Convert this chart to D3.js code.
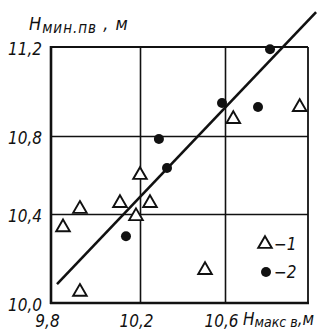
<!DOCTYPE html>
<html>
<head>
<meta charset="utf-8">
<script src="https://cdn.jsdelivr.net/npm/d3@7"></script>
<style>
  html, body { margin: 0; padding: 0; background: #fff; }
  svg text { font-family: "Liberation Sans Narrow", "DejaVu Sans Condensed", "Liberation Sans", sans-serif; font-style: italic; fill: #111; }
</style>
</head>
<body>
<svg id="chart" width="334" height="332"></svg>
<script>
// Series 1 (triangles): H max (x) vs H min (y), metres
const triX = [9.854, 9.93, 9.93, 10.11, 10.182, 10.2, 10.247, 10.506, 10.64, 10.96];
const triY = [10.34, 10.426, 10.05, 10.456, 10.39, 10.6, 10.456, 10.148, 10.876, 10.93];
// Series 2 (filled dots)
const dotX = [10.137, 10.289, 10.327, 10.586, 10.759, 10.817];
const dotY = [10.30, 10.785, 10.636, 10.948, 10.93, 11.19];
// Fitted line end points
const fitX = [9.827, 11.039];
const fitY = [10.085, 11.357];

const xTicks = [9.8, 10.2, 10.6];
const yTicks = [10.0, 10.4, 10.8, 11.2];
const xGrid = [10.2, 10.6];
const yGrid = [10.4, 10.8];
const legendLabels = ["\u22121", "\u22122"];

const svg = d3.select("#chart");

// Polylinear scales keep the grid cells as drawn on the sheet
const x = d3.scaleLinear().domain([9.8, 10.2, 10.6, 11.0]).range([51, 140, 225, 308]);
const y = d3.scaleLinear().domain([10.0, 10.4, 10.8, 11.2]).range([303, 214, 136, 47]);

const pL = x(9.8), pR = x(11.0), pT = y(11.2), pB = y(10.0);
const fmt = d => d3.format(".1f")(d).replace(".", ",");

// grid lines
svg.append("g")
  .attr("transform", `translate(0,${pB})`)
  .call(d3.axisBottom(x).tickValues(xGrid).tickSize(-(pB - pT)).tickFormat(""))
  .call(g => g.select(".domain").remove())
  .call(g => g.selectAll("line").attr("stroke", "#111").attr("stroke-width", 1.6));
svg.append("g")
  .attr("transform", `translate(${pL},0)`)
  .call(d3.axisLeft(y).tickValues(yGrid).tickSize(-(pR - pL)).tickFormat(""))
  .call(g => g.select(".domain").remove())
  .call(g => g.selectAll("line").attr("stroke", "#111").attr("stroke-width", 1.6));

// frame
svg.append("line").attr("x1", pL).attr("x2", pR).attr("y1", pT).attr("y2", pT)
  .attr("stroke", "#111").attr("stroke-width", 2);
svg.append("line").attr("x1", pR).attr("x2", pR).attr("y1", pT).attr("y2", pB)
  .attr("stroke", "#111").attr("stroke-width", 1.8);
svg.append("line").attr("x1", pL).attr("x2", pL).attr("y1", pT - 1).attr("y2", pB + 1)
  .attr("stroke", "#111").attr("stroke-width", 2.6);
svg.append("line").attr("x1", pL - 1).attr("x2", pR + 1).attr("y1", pB).attr("y2", pB)
  .attr("stroke", "#111").attr("stroke-width", 2.4);

// tick labels
svg.append("g")
  .attr("transform", `translate(-4,${pB})`)
  .call(d3.axisBottom(x).tickValues(xTicks).tickSize(0).tickPadding(12).tickFormat(fmt))
  .call(g => g.select(".domain").remove())
  .call(g => g.selectAll("text").attr("font-size", 17).style("font-family", null).attr("fill", "#111"));
svg.append("g")
  .attr("transform", `translate(${pL},2)`)
  .call(d3.axisLeft(y).tickValues(yTicks).tickSize(0).tickPadding(9).tickFormat(fmt))
  .call(g => g.select(".domain").remove())
  .call(g => g.selectAll("text").attr("font-size", 17).style("font-family", null).attr("fill", "#111"));

// axis titles
const yt = svg.append("text").attr("x", 29).attr("y", 30).attr("font-size", 18)
  .attr("letter-spacing", 1);
yt.append("tspan").text("H");
yt.append("tspan").attr("font-size", 15).attr("dy", 3).text("мин.пв");
yt.append("tspan").attr("dy", -3).text(" ,  м");

const xt = svg.append("text").attr("x", 243).attr("y", 325).attr("font-size", 17);
xt.append("tspan").text("H");
xt.append("tspan").attr("font-size", 14).attr("dy", 2).text("макс в");
xt.append("tspan").attr("dy", -2).text(",м");

// fitted line
svg.append("line")
  .attr("x1", x(fitX[0])).attr("y1", y(fitY[0]))
  .attr("x2", x(fitX[1])).attr("y2", y(fitY[1]))
  .attr("stroke", "#111").attr("stroke-width", 2.6);

const tri = d3.symbol().type(d3.symbolTriangle).size(80);

// series 1
svg.append("g").selectAll("path")
  .data(d3.zip(triX, triY))
  .join("path")
  .attr("d", tri)
  .attr("transform", d => `translate(${x(d[0])},${y(d[1])})`)
  .attr("fill", "#fff").attr("stroke", "#111").attr("stroke-width", 1.9);

// series 2
svg.append("g").selectAll("circle")
  .data(d3.zip(dotX, dotY))
  .join("circle")
  .attr("cx", d => x(d[0])).attr("cy", d => y(d[1]))
  .attr("r", 5).attr("fill", "#111");

// legend
const lg = svg.append("g");
lg.append("path").attr("d", tri).attr("transform", "translate(265,244)")
  .attr("fill", "#fff").attr("stroke", "#111").attr("stroke-width", 1.9);
lg.append("text").attr("x", 274).attr("y", 250).attr("font-size", 17).text(legendLabels[0]);
lg.append("circle").attr("cx", 266).attr("cy", 272).attr("r", 5).attr("fill", "#111");
lg.append("text").attr("x", 274).attr("y", 278).attr("font-size", 17).text(legendLabels[1]);
</script>
</body>
</html>
